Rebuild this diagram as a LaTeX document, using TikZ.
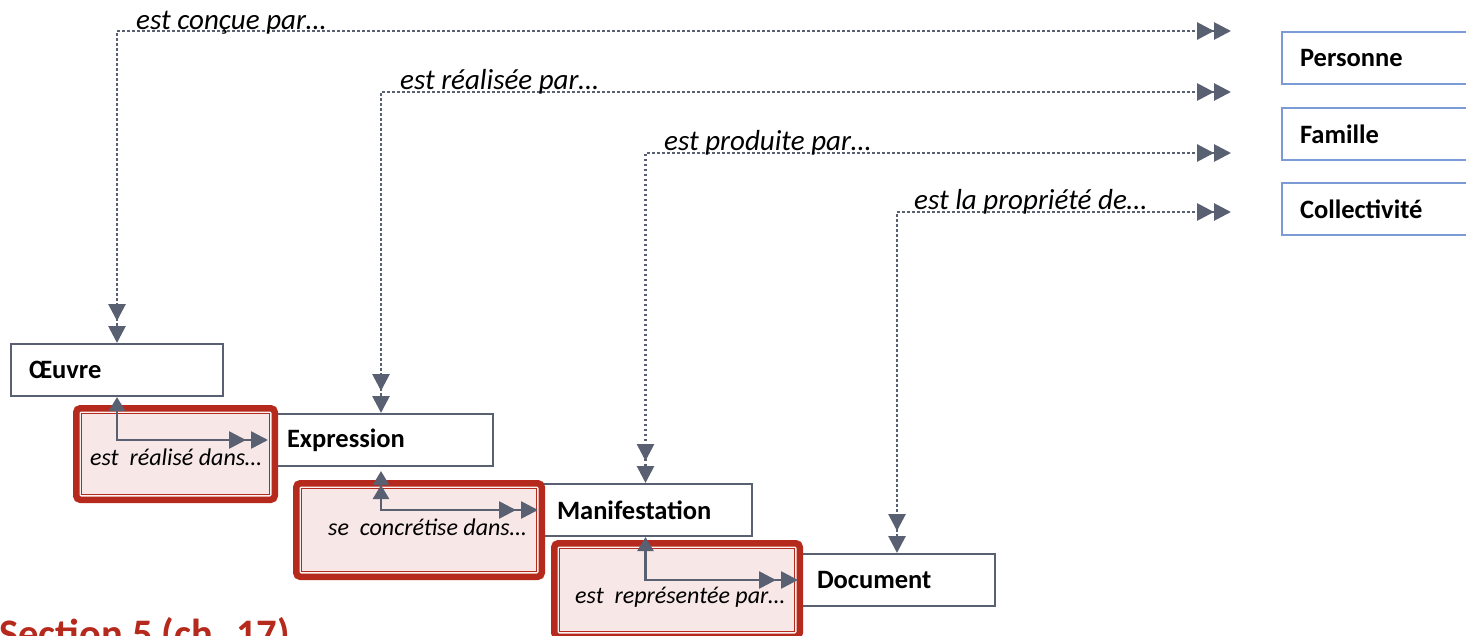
\documentclass[tikz,border=0pt]{standalone}
\usepackage{fontspec}
\setmainfont{Carlito}
\usetikzlibrary{arrows.meta}
\definecolor{gline}{HTML}{596072}
\definecolor{bline}{HTML}{7B9BD6}
\definecolor{rline}{HTML}{B52A1C}
\definecolor{pinkf}{HTML}{F7E7E6}
\definecolor{pinkg}{HTML}{FBF3F2}
\begin{document}
\begin{tikzpicture}[x=1pt,y=-1pt,
  ent/.style={draw=gline, line width=2pt, fill=white, anchor=north west, minimum height=52pt,
    inner xsep=18pt, inner ysep=0pt, font=\fontsize{26.5}{30}\selectfont\bfseries, align=left},
  agent/.style={ent, draw=bline},
  toplab/.style={anchor=base west, inner sep=0pt, font=\fontsize{29}{32}\selectfont\itshape},
  inlab/.style={anchor=base west, inner sep=0pt, font=\fontsize{24}{27}\selectfont\itshape},
  dotarr/.style={draw=gline, line width=2.8pt, dash pattern=on 2.6pt off 2.4pt,
    {Triangle[length=17pt,width=17pt,sep=6pt]Triangle[length=17pt,width=17pt]}-{Triangle[length=17pt,width=17pt,sep=5pt]Triangle[length=17pt,width=17pt]}},
  solarr/.style={draw=gline, line width=2.6pt,
    {Triangle[length=14pt,width=16pt]}-{Triangle[length=17pt,width=17pt,sep=5pt]Triangle[length=17pt,width=17pt]}},
  solarr2/.style={draw=gline, line width=2.6pt,
    {Triangle[length=14pt,width=16pt,sep=4pt]Triangle[length=14pt,width=16pt]}-{Triangle[length=17pt,width=17pt,sep=5pt]Triangle[length=17pt,width=17pt]}},
  redframe/.style={draw=rline, line width=6.5pt, rounded corners=4pt, fill=pinkg, inner sep=0pt},
  redinner/.style={draw=rline, line width=1.4pt, fill=pinkf, inner sep=0pt}
]
\useasboundingbox (0,0) rectangle (1466,636);
\clip (0,0) rectangle (1466,636);

% entity boxes
\node[ent, minimum width=212pt, text width=176pt] (oeuvre) at (10,343) {Œuvre};
\node[ent, minimum width=224pt, text width=188pt] (expr) at (268,413) {Expression};
\node[ent, minimum width=213pt, text width=177pt] (manif) at (538,483) {Manifestation};
\node[ent, minimum width=196pt, text width=160pt] (doc) at (798,553) {Document};

\node[agent, minimum width=220pt, text width=184pt] (pers) at (1281,31) {Personne};
\node[agent, minimum width=220pt, text width=184pt] (fam) at (1281,107) {Famille};
\node[agent, minimum width=220pt, text width=184pt] (coll) at (1281,182) {Collectivité};

% red frames
\node[redframe, minimum width=198.5pt, minimum height=91.5pt] (r1) at (175.5,454) {};
\node[redinner, minimum width=188pt, minimum height=81pt] (r1i) at (r1.center) {};
\node[redframe, minimum width=245.5pt, minimum height=93.5pt] (r2) at (419,530) {};
\node[redinner, minimum width=235pt, minimum height=83pt] (r2i) at (r2.center) {};
\node[redframe, minimum width=245.5pt, minimum height=93.5pt] (r3) at (677,590) {};
\node[redinner, minimum width=235pt, minimum height=83pt] (r3i) at (r3.center) {};

\node[inlab] (l5) at (90,465) {est~ réalisé dans…};
\node[inlab] (l6) at (328,535) {se~ concrétise dans…};
\node[inlab] (l7) at (575,603) {est~ représentée par…};

% solid connectors
\draw[solarr] (oeuvre.south) |- (expr.west);
\draw[solarr2] (expr.south) |- (manif.west);
\draw[solarr] (manif.south) |- (doc.west);

% dotted connectors
\coordinate (e1) at (1237,31);
\coordinate (e2) at (1237,92);
\coordinate (e3) at (1237,153);
\coordinate (e4) at (1237,212);
\draw[dotarr] (e1) -| (oeuvre.north);
\draw[dotarr] (e2) -| (expr.north);
\draw[dotarr] (e3) -| (manif.north);
\draw[dotarr] (e4) -| (doc.north);

\node[toplab] (l1) at (136,30) {est conçue par…};
\node[toplab] (l2) at (400,90) {est réalisée par…};
\node[toplab] (l3) at (664,151) {est produite par…};
\node[toplab] (l4) at (914,210) {est la propriété de…};

\node[anchor=base west, inner sep=0pt, text=rline, font=\fontsize{40.5}{46}\selectfont\bfseries] (sec) at (-1,647) {Section 5 (ch. 17)};
\end{tikzpicture}
\end{document}
